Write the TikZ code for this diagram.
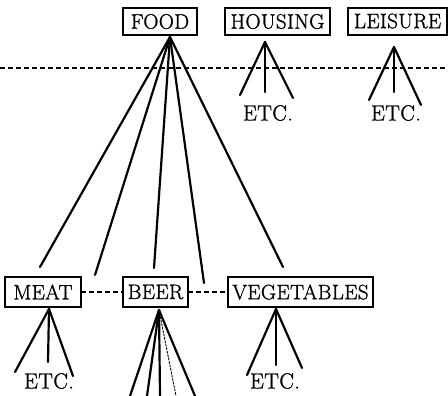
\documentclass[tikz,border=0pt]{standalone}
\usepackage{fontspec}
\setmainfont{Latin Modern Roman}[FakeBold=1.2, LetterSpace=2]
\usetikzlibrary{positioning,calc}
\tikzset{%
  % Specifications for style of nodes:
  box/.style={draw, line width=2pt, inner sep=1pt, outer sep=0, font=\fontsize{21}{21}\selectfont},
  etc/.style={font=\fontsize{22}{22}\selectfont, inner sep=0},
  leg/.style={line width=2.2pt, line cap=round},
  link/.style={line width=2pt, dash pattern=on 5bp off 3bp},
}

\begin{document}
\begin{tikzpicture}[x=1bp,y=-1bp]
  \useasboundingbox (0,0) rectangle (448,395);
  % top categories
  \node[box, minimum width=74bp, minimum height=27bp] (food) at (160,21.5) {FOOD};
  \node[box, minimum width=105bp, minimum height=27bp] (housing) at (277.5,21.5) {HOUSING};
  \node[box, minimum width=99bp, minimum height=27bp] (leisure) at (397.5,21) {LEISURE};
  \draw[link, line width=1.8pt] (0,68) -- (448,68);

  % food items
  \node[box, minimum width=76bp, minimum height=30bp] (meat) at (43,292) {MEAT};
  \node[box, minimum width=65bp, minimum height=30bp] (beer) at (155.5,292) {BEER};
  \node[box, minimum width=145bp, minimum height=30bp] (veg) at (300.5,292) {VEGETABLES};
  \draw[link] (meat) -- (beer);
  \draw[link] (beer) -- (veg);

  % apexes and free ends
  \coordinate (food-a) at (170,37);
  \coordinate (f1) at (40,267);
  \coordinate (f2) at (95,275);
  \coordinate (f3) at (154,268);
  \coordinate (f4) at (204,283);
  \coordinate (f5) at (283,267);
  \foreach \e in {f1,f2,f3,f4,f5}
    \draw[leg] (food-a) -- (\e);

  \coordinate (housing-a) at (265,42);
  \coordinate (h1) at (240,95);
  \coordinate (h2) at (265,92);
  \coordinate (h3) at (293,98);
  \foreach \e in {h1,h2,h3}
    \draw[leg] (housing-a) -- (\e);
  \node[etc] (housing-etc) at (268,113) {ETC.};

  \coordinate (leisure-a) at (394,47);
  \coordinate (l1) at (369,100);
  \coordinate (l2) at (394,92);
  \coordinate (l3) at (421,105);
  \foreach \e in {l1,l2,l3}
    \draw[leg] (leisure-a) -- (\e);
  \node[etc] (leisure-etc) at (396,113) {ETC.};

  \coordinate (meat-a) at (49,309);
  \coordinate (m1) at (15,372);
  \coordinate (m2) at (48,362);
  \coordinate (m3) at (73,376);
  \foreach \e in {m1,m2,m3}
    \draw[leg] (meat-a) -- (\e);
  \node[etc] (meat-etc) at (49,381) {ETC.};

  \coordinate (beer-a) at (159,310);
  \coordinate (b1) at (130,396);
  \coordinate (b2) at (147,396);
  \coordinate (b3) at (160,396);
  \coordinate (b4) at (176,396);
  \coordinate (b5) at (195,396);
  \foreach \e in {b1,b2,b3,b5}
    \draw[leg] (beer-a) -- (\e);
  \draw[leg, line width=0.9pt, dash pattern=on 2bp off 1.5bp] (beer-a) -- (b4);

  \coordinate (veg-a) at (276,309);
  \coordinate (v1) at (247,375);
  \coordinate (v2) at (276,365);
  \coordinate (v3) at (302,368);
  \foreach \e in {v1,v2,v3}
    \draw[leg] (veg-a) -- (\e);
  \node[etc] (veg-etc) at (275,381) {ETC.};
\end{tikzpicture}
\end{document}
